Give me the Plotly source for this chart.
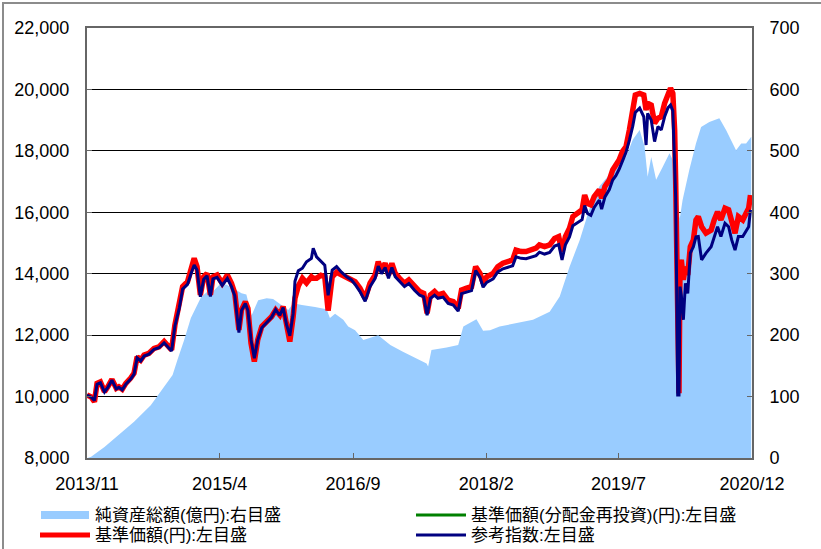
import plotly.graph_objects as go

# ---------------- data ----------------
line_dates = [
    "2013-11-01", "2013-11-17", "2013-11-30", "2013-12-10", "2013-12-23", "2014-01-08", "2014-01-21",
    "2014-02-06", "2014-02-23", "2014-03-05", "2014-03-18", "2014-04-01", "2014-04-20", "2014-05-03",
    "2014-05-15", "2014-05-29", "2014-06-11", "2014-06-30", "2014-07-20", "2014-08-08", "2014-08-28",
    "2014-09-13", "2014-09-26", "2014-10-09", "2014-10-26", "2014-11-08", "2014-11-27", "2014-12-12",
    "2014-12-23", "2015-01-03", "2015-01-16", "2015-01-29", "2015-02-11", "2015-02-24", "2015-03-06",
    "2015-03-22", "2015-04-11",
    "2015-05-01", "2015-05-17", "2015-05-30", "2015-06-15", "2015-06-25", "2015-07-10", "2015-07-20",
    "2015-08-01", "2015-08-14", "2015-08-27", "2015-09-12", "2015-10-01", "2015-10-20", "2015-11-05",
    "2015-11-21", "2015-12-04", "2015-12-17", "2015-12-30",
    "2016-01-12", "2016-01-19", "2016-02-01", "2016-02-17", "2016-03-04", "2016-03-23", "2016-03-30",
    "2016-04-12", "2016-04-29", "2016-05-14", "2016-05-27", "2016-06-12", "2016-06-29", "2016-07-18",
    "2016-08-07", "2016-08-26",
    "2016-09-09", "2016-09-28", "2016-10-18", "2016-11-06", "2016-11-26", "2016-12-08", "2016-12-21",
    "2017-01-04", "2017-01-17", "2017-01-30", "2017-02-12", "2017-03-01", "2017-03-20", "2017-04-06",
    "2017-04-28", "2017-05-18", "2017-06-03", "2017-06-16", "2017-06-29", "2017-07-15", "2017-07-28",
    "2017-08-17", "2017-09-06", "2017-09-26", "2017-10-15", "2017-10-28", "2017-11-17", "2017-12-06",
    "2017-12-22", "2018-01-08", "2018-01-20", "2018-02-03",
    "2018-02-28", "2018-03-18", "2018-04-07", "2018-04-26", "2018-05-15", "2018-05-28", "2018-06-17",
    "2018-07-06", "2018-07-26", "2018-08-14", "2018-08-27", "2018-09-16", "2018-10-06", "2018-10-25",
    "2018-11-10", "2018-11-23", "2018-12-06", "2018-12-22",
    "2019-01-04", "2019-01-24", "2019-02-09", "2019-02-19", "2019-03-02", "2019-03-15", "2019-03-28",
    "2019-04-17", "2019-04-26", "2019-05-09", "2019-05-26", "2019-06-08", "2019-06-21",
    "2019-07-03", "2019-07-16", "2019-07-30", "2019-08-12", "2019-08-25", "2019-09-04", "2019-09-21",
    "2019-10-07", "2019-10-16", "2019-10-22", "2019-11-05", "2019-11-18", "2019-12-01", "2019-12-14",
    "2019-12-27",
    "2020-01-09", "2020-01-19", "2020-01-28", "2020-02-04", "2020-02-08", "2020-02-12", "2020-02-16",
    "2020-02-21", "2020-02-25", "2020-03-01", "2020-03-09", "2020-03-17", "2020-03-26", "2020-04-05",
    "2020-04-17", "2020-04-27", "2020-05-06", "2020-05-19", "2020-06-05", "2020-06-25", "2020-07-07",
    "2020-07-20", "2020-08-02", "2020-08-18", "2020-09-01", "2020-09-13", "2020-09-26", "2020-10-09",
    "2020-10-26", "2020-11-08", "2020-11-18", "2020-11-25",
]

# 基準価額(円)
nav_price = [
    10050, 9990, 9830, 10430, 10480, 10160, 10320, 10560, 10270, 10320, 10240, 10430, 10600, 10760,
    11300, 11190, 11350, 11410, 11570, 11620, 11790, 11620, 11520, 12330, 12930, 13580, 13740, 14120,
    14500, 14230, 13310, 13900, 14010, 13310, 13900, 13960, 13690,
    13960, 13690, 13360, 12170, 12820, 13090, 12870, 11740, 11140, 11840, 12280, 12440, 12600, 12820,
    12660, 12930, 12280, 11790,
    12600, 13200, 13600, 13850, 13700, 13900, 13850, 13850, 13950, 13900, 12800, 13900, 14050, 13960,
    13850, 13800,
    13740, 13530, 13200, 13690, 13960, 14390, 14120,
    14340, 13960, 14340, 14010, 13850, 13690, 13800, 13580, 13420, 13360, 12710, 13310, 13420, 13310,
    13360, 13140, 13090, 12870, 13470, 13530, 13580, 14230,
    14010, 13690, 13900,
    14010, 14230, 14340, 14390, 14450, 14770, 14720, 14720, 14770, 14830, 14940, 14880, 14940, 15150,
    15210, 14720, 15210, 15480,
    15860, 15970, 16080, 16560, 16290, 16240, 16510, 16730, 16460, 16840, 17050, 17380, 17540,
    17700, 17980, 18140, 18680, 19220, 19820, 19870, 19820, 19330, 19550, 19490, 18900, 19060, 19110,
    19550,
    19820, 20040, 19870, 18680, 17050, 13800, 10110, 10110, 14230, 14450, 13800, 14230, 13960, 14880,
    15100, 15750, 15860, 15530, 15320, 15420, 15750, 16020, 15750, 16130, 16080, 15640, 15320, 15860,
    15750, 15970, 16130, 16560,
]

# 基準価額(分配金再投資)(円): no distributions were paid, so in the picture this line
# lies exactly underneath the 基準価額 line.
nav_reinvest = nav_price.copy()

# 参考指数
ref_index = [
    10050, 9980, 9870, 10400, 10450, 10150, 10300, 10530, 10250, 10300, 10220, 10400, 10570, 10730,
    11260, 11160, 11320, 11380, 11540, 11590, 11750, 11600, 11480, 12300, 12880, 13500, 13650, 14030,
    14280, 14120, 13250, 13820, 13930, 13260, 13830, 13880, 13620,
    13850, 13580, 13280, 12080, 12800, 13030, 12800, 11850, 11250, 11830, 12240, 12420, 12580, 12830,
    12640, 12900, 12350, 11980,
    12700, 13750, 14100, 14180, 14390, 14500, 14830, 14550, 14400, 14280, 13300, 14120, 14230, 14050,
    13900, 13800,
    13650, 13420, 13100, 13580, 13850, 14250, 14000,
    14200, 13850, 14200, 13900, 13740, 13580, 13680, 13460, 13300, 13250, 12650, 13200, 13300, 13200,
    13240, 13030, 12980, 12780, 13350, 13400, 13450, 14100,
    13880, 13560, 13720,
    13830, 14060, 14160, 14200, 14260, 14550, 14500, 14490, 14540, 14590, 14700, 14640, 14690, 14900,
    14950, 14450, 14940, 15200,
    15560, 15660, 15760, 16220, 15960, 15900, 16160, 16400, 16100, 16500, 16740, 17050, 17200,
    17400, 17650, 17950, 18350, 18800, 19250, 19390, 19110, 18190, 19220, 19000, 18300, 18790, 18680,
    19110,
    19400, 19490, 19300, 17600, 16500, 13500, 10050, 10050, 13580, 13300, 12500, 13690, 13360, 14670,
    14880, 15200, 15210, 14450, 14670, 14880, 15200, 15530, 15210, 15640, 15530, 15100, 14770, 15210,
    15210, 15400, 15530, 16080,
]

# 純資産総額(億円)
aum_dates = [
    "2013-11-03", "2013-11-17", "2014-01-08", "2014-02-26", "2014-05-03", "2014-07-07", "2014-08-28",
    "2014-09-30", "2014-10-19", "2014-11-14", "2014-12-10", "2014-12-23", "2015-01-19", "2015-02-19",
    "2015-03-06", "2015-04-05", "2015-04-28", "2015-06-06", "2015-06-25", "2015-07-14", "2015-08-03",
    "2015-08-29", "2015-10-01", "2015-10-26", "2015-12-24", "2016-01-12", "2016-02-15", "2016-04-06",
    "2016-05-21", "2016-06-03", "2016-06-23", "2016-07-25", "2016-08-13", "2016-09-09", "2016-10-11",
    "2016-12-08", "2017-01-24", "2017-03-14", "2017-04-22", "2017-06-14", "2017-06-20", "2017-07-03",
    "2017-08-31", "2017-10-15", "2017-11-04", "2017-12-25", "2018-01-20", "2018-02-16", "2018-03-25",
    "2018-05-28", "2018-08-02", "2018-10-06", "2018-11-14", "2018-12-22", "2019-01-31", "2019-03-09",
    "2019-04-17", "2019-06-21", "2019-07-30", "2019-08-25", "2019-09-21", "2019-10-10", "2019-10-22",
    "2019-11-05", "2019-11-24", "2019-12-20", "2020-01-15", "2020-01-28", "2020-02-10", "2020-02-24",
    "2020-03-06", "2020-04-01", "2020-04-27", "2020-05-17", "2020-06-18", "2020-07-27", "2020-08-22",
    "2020-09-17", "2020-09-30", "2020-10-20", "2020-11-08", "2020-11-28",
]
aum_values = [
    0, 2, 18, 35, 59, 86, 116,
    135, 160, 192, 228, 240, 262, 273,
    271, 284, 282, 273, 268, 266, 232,
    257, 260, 259, 241, 252, 249, 246,
    242, 228, 235, 225, 214, 208, 192,
    200, 184, 173, 165, 154, 149, 176,
    180, 184, 214, 226, 207, 208, 214,
    219, 225, 238, 263, 311, 355, 405,
    442, 474, 490, 518, 534, 507, 458,
    490, 453, 474, 496, 485, 442, 390,
    420, 469, 512, 539, 547, 553, 534,
    512, 501, 512, 512, 523,
]

x_tick_dates = ["2013-11-01", "2015-04-01", "2016-09-01", "2018-02-01", "2019-07-01", "2020-12-01"]
x_tick_labels = ["2013/11", "2015/4", "2016/9", "2018/2", "2019/7", "2020/12"]

series_names = [
    "純資産総額(億円):右目盛",
    "基準価額(分配金再投資)(円):左目盛",
    "基準価額(円):左目盛",
    "参考指数:左目盛",
]

assert len(line_dates) == len(nav_price) == len(ref_index)
assert len(aum_dates) == len(aum_values)

# ---------------- figure ----------------
C_AREA = "#99CCFF"
C_GREEN = "#008000"
C_RED = "#FF0000"
C_NAVY = "#000080"
AX = "#666666"
TICK_FONT = dict(family="Liberation Sans, Arial, sans-serif", size=18, color="black")
LEG_FONT = dict(family="Liberation Sans, Noto Sans CJK JP, sans-serif", size=17, color="black")

fig = go.Figure()
# area on the base (right-side) axis so it stays underneath the lines
fig.add_trace(go.Scatter(x=aum_dates, y=aum_values, yaxis="y", mode="lines", fill="tozeroy",
                         fillcolor=C_AREA, line=dict(width=0, color=C_AREA),
                         name=series_names[0], showlegend=False, hoverinfo="skip"))
fig.add_trace(go.Scatter(x=line_dates, y=nav_reinvest, yaxis="y2", mode="lines",
                         line=dict(color=C_GREEN, width=2), name=series_names[1], showlegend=False))
fig.add_trace(go.Scatter(x=line_dates, y=nav_price, yaxis="y2", mode="lines",
                         line=dict(color=C_RED, width=5.5), name=series_names[2], showlegend=False))
fig.add_trace(go.Scatter(x=line_dates, y=ref_index, yaxis="y2", mode="lines",
                         line=dict(color=C_NAVY, width=3), name=series_names[3], showlegend=False))

W, H = 821, 549
ML, MR, MT, MB = 87, 69, 28, 91
PW, PH = W - ML - MR, H - MT - MB


def px(xp):
    return (xp - ML) / PW


def py(yp):
    return (H - MB - yp) / PH


shapes = [
    # outer frame of the picture
    dict(type="rect", xref="paper", yref="paper", x0=px(3), x1=px(900), y0=py(700), y1=py(3),
         line=dict(color="#8c8c8c", width=2), fillcolor="rgba(0,0,0,0)", layer="below"),
    # legend symbols
    dict(type="rect", xref="paper", yref="paper", x0=px(41), x1=px(89), y0=py(519), y1=py(511),
         line=dict(width=0), fillcolor=C_AREA),
    dict(type="line", xref="paper", yref="paper", x0=px(416), x1=px(466), y0=py(515), y1=py(515),
         line=dict(color=C_GREEN, width=3)),
    dict(type="line", xref="paper", yref="paper", x0=px(40), x1=px(90), y0=py(535), y1=py(535),
         line=dict(color=C_RED, width=5)),
    dict(type="line", xref="paper", yref="paper", x0=px(416), x1=px(466), y0=py(535), y1=py(535),
         line=dict(color=C_NAVY, width=3)),
]

annotations = [
    dict(text=series_names[0], x=px(93), y=py(515)),
    dict(text=series_names[1], x=px(469), y=py(515)),
    dict(text=series_names[2], x=px(93), y=py(535)),
    dict(text=series_names[3], x=px(469), y=py(535)),
]
for a in annotations:
    a.update(xref="paper", yref="paper", xanchor="left", yanchor="middle", showarrow=False, font=LEG_FONT)

fig.update_layout(
    width=W, height=H,
    margin=dict(l=ML, r=MR, t=MT, b=MB, pad=0, autoexpand=False),
    paper_bgcolor="white", plot_bgcolor="white",
    showlegend=False,
    shapes=shapes, annotations=annotations,
    xaxis=dict(type="date", range=["2013-11-01", "2020-12-01"], tickvals=x_tick_dates,
               ticktext=x_tick_labels, ticks="inside", ticklen=5, tickwidth=1, tickcolor=AX,
               showline=True, linecolor=AX, linewidth=2, mirror=True, showgrid=False,
               zeroline=False, tickfont=TICK_FONT, ticklabelstandoff=8),
    yaxis=dict(side="right", range=[0, 700], dtick=100, tick0=0, showgrid=True, gridcolor="black",
               gridwidth=1, showline=True, linecolor=AX, linewidth=2, ticks="inside", ticklen=5,
               tickcolor=AX, zeroline=False, tickfont=TICK_FONT, ticklabelstandoff=12),
    yaxis2=dict(side="left", overlaying="y", range=[8000, 22000], dtick=2000, tick0=8000,
                tickformat=",d", showgrid=False, showline=True, linecolor=AX, linewidth=2,
                ticks="inside", ticklen=5, tickcolor=AX, zeroline=False, tickfont=TICK_FONT,
                ticklabelstandoff=12),
)

# the page's default 8px body margin would shift the whole picture; remove it
fig.write_html("out.html", config={"displayModeBar": False},
               post_script="document.body.style.margin='0';document.body.style.overflow='hidden';")
